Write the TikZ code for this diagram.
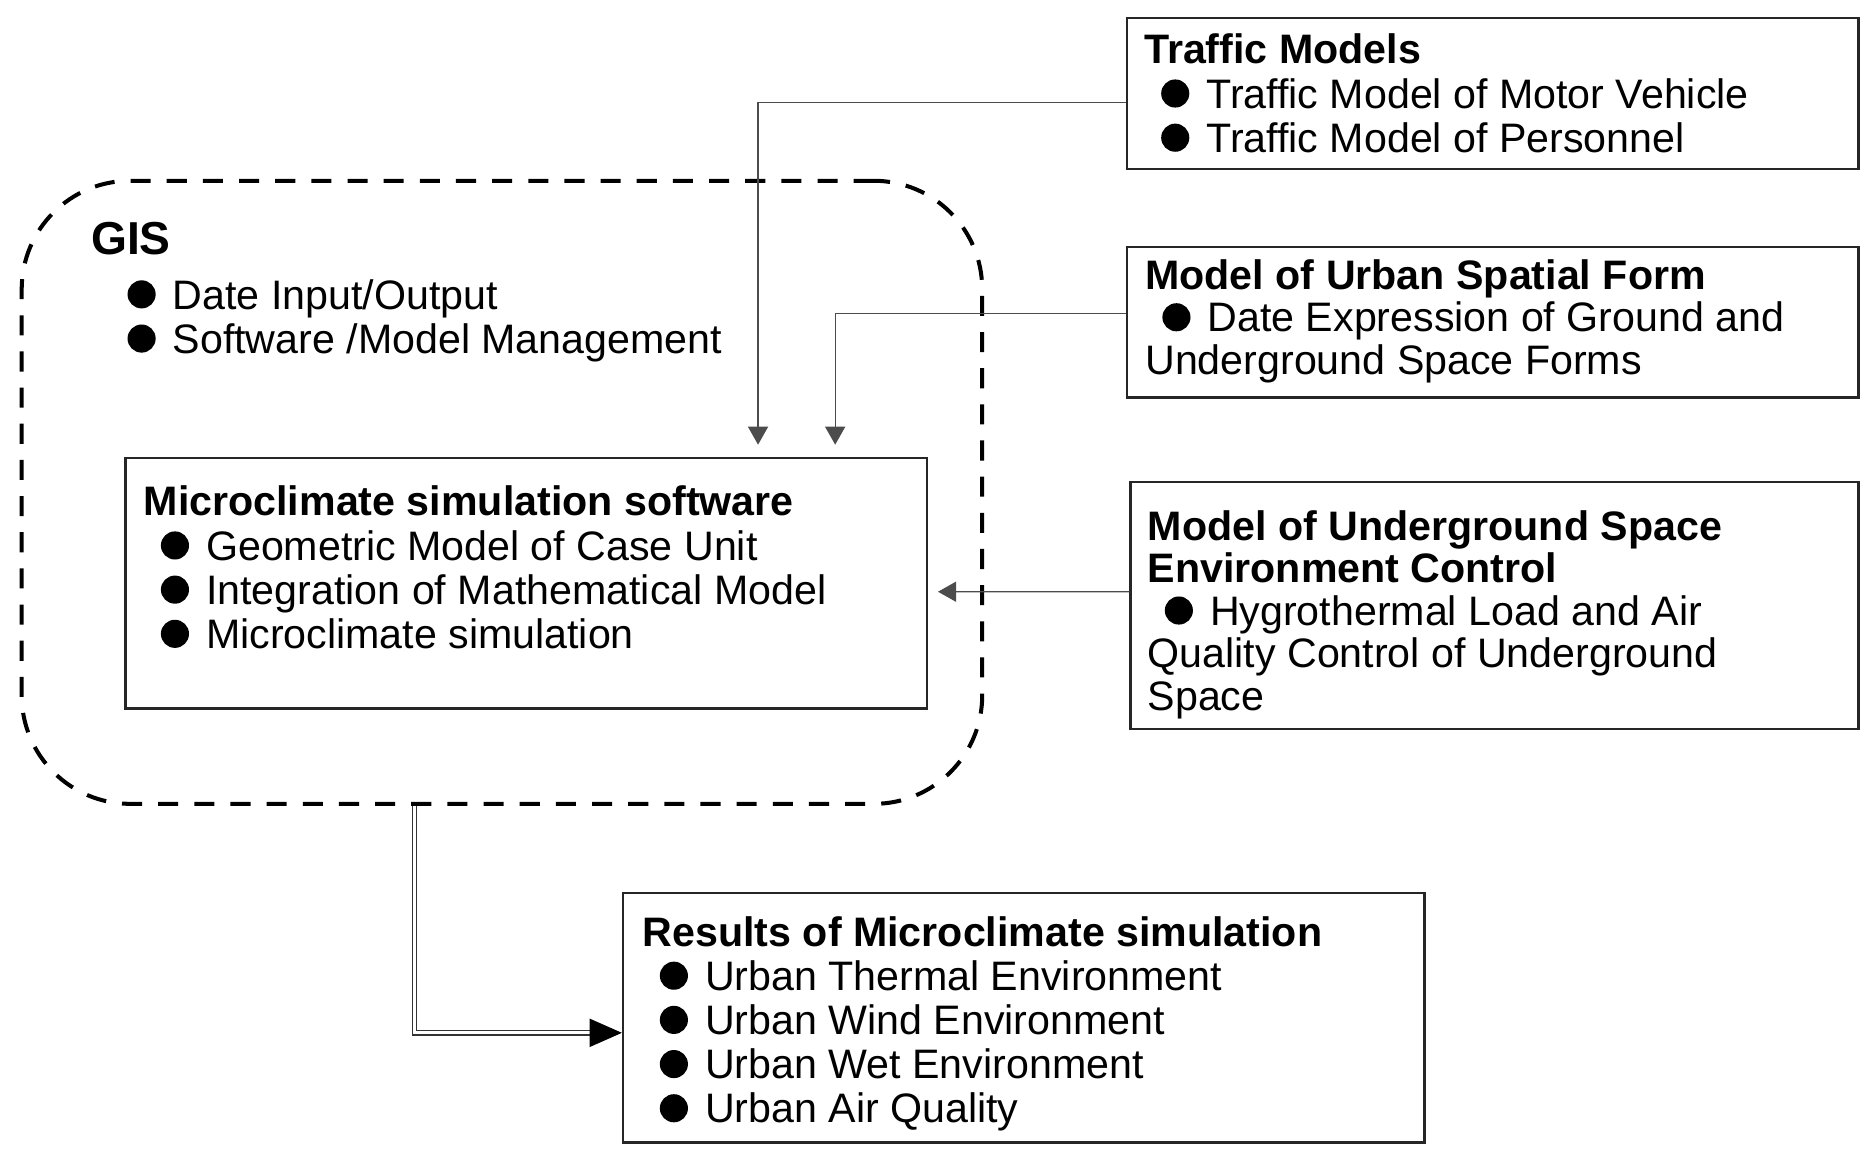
\documentclass[tikz,border=0pt]{standalone}
\usepackage{fontspec}
\setmainfont{Liberation Sans}
\usetikzlibrary{arrows.meta,fit,positioning}

\tikzstyle{modelbox}=[draw=black!85, line width=1.2pt, inner sep=0pt]
\tikzstyle{boxtext}=[inner sep=0pt, align=left, anchor=north west,
  font=\fontsize{20.5}{22}\selectfont]
\tikzstyle{tightbox}=[boxtext, font=\fontsize{20.5}{21.2}\selectfont]
\tikzstyle{line}=[draw, line width=0.65pt, color=black!70,
  -{Triangle[length=9pt,width=10pt]}]
\tikzstyle{gisframe}=[draw, line width=2pt, dash pattern=on 10pt off 8pt,
  rounded corners=54pt, inner sep=0pt]
\tikzstyle{result}=[draw, color=black!80, line width=0.6pt, double,
  double distance=1.6pt]
\newcommand{\dotitem}{\hspace*{8.5pt}\tikz[baseline=0pt]\fill (7pt,7.3pt)
  circle (7pt);\hspace*{8.5pt}}

\begin{document}
\begin{tikzpicture}[x=0.6pt, y=-0.6pt]
  \useasboundingbox (0,0) rectangle (1550,960);

  % Draw the frames
  \node[gisframe, fit={(18,150) (815,667)}] (gis) {};
  \node[modelbox, fit={(935,15) (1542,140)}] (tm) {};
  \node[modelbox, fit={(935,205) (1542,330)}] (usf) {};
  \node[modelbox, fit={(938,400) (1542,605)}] (ug) {};
  \node[modelbox, fit={(104,380) (769,588)}] (sw) {};
  \node[modelbox, fit={(517,741) (1182,948)}] (res) {};

  % Texts inside the frames
  \node[boxtext, font=\bfseries\fontsize{23}{23}\selectfont] (gisT)
    at ([shift={(59,36)}]gis.north west) {GIS};
  \node[boxtext] (gisL) at ([shift={(75,83)}]gis.north west)
    {\dotitem Date Input/Output\\
     \dotitem Software /Model Management};
  \node[boxtext] (tmT) at ([shift={(15,14)}]tm.north west)
    {\textbf{Traffic Models}\\
     \dotitem Traffic Model of Motor Vehicle\\
     \dotitem Traffic Model of Personnel};
  \node[tightbox] (usfT) at ([shift={(16,11)}]usf.north west)
    {\textbf{Model of Urban Spatial Form}\\
     \dotitem Date Expression of Ground and\\
     Underground Space Forms};
  \node[tightbox] (ugT) at ([shift={(15,24)}]ug.north west)
    {\textbf{Model of Underground Space}\\
     \textbf{Environment Control}\\
     \dotitem Hygrothermal Load and Air\\
     Quality Control of Underground\\
     Space};
  \node[boxtext] (swT) at ([shift={(16,24)}]sw.north west)
    {\textbf{Microclimate simulation software}\\
     \dotitem Geometric Model of Case Unit\\
     \dotitem Integration of Mathematical Model\\
     \dotitem Microclimate simulation};
  \node[boxtext] (resT) at ([shift={(17,20)}]res.north west)
    {\textbf{Results of Microclimate simulation}\\
     \dotitem Urban Thermal Environment\\
     \dotitem Urban Wind Environment\\
     \dotitem Urban Wet Environment\\
     \dotitem Urban Air Quality};

  % Draw arrows between elements
  \path [line, shorten >=6pt] ([yshift=-4.5pt]tm.west)
    -| ([xshift=115.5pt]sw.north);
  \path [line, shorten >=6pt] ([yshift=4.5pt]usf.west)
    -| ([xshift=153.9pt]sw.north);
  \path [line, shorten >=5pt] ([yshift=6.9pt]ug.west)
    -- ([yshift=-4.2pt]sw.east);
  \path [result, shorten >=15pt] ([xshift=-43.5pt]gis.south)
    |- ([yshift=-7.5pt]res.west);
  \path [draw, line width=0.6pt, -{Triangle[length=16pt,width=14pt]}]
    ([xshift=-16pt,yshift=-7.5pt]res.west) -- ([yshift=-7.5pt]res.west);
\end{tikzpicture}
\end{document}
